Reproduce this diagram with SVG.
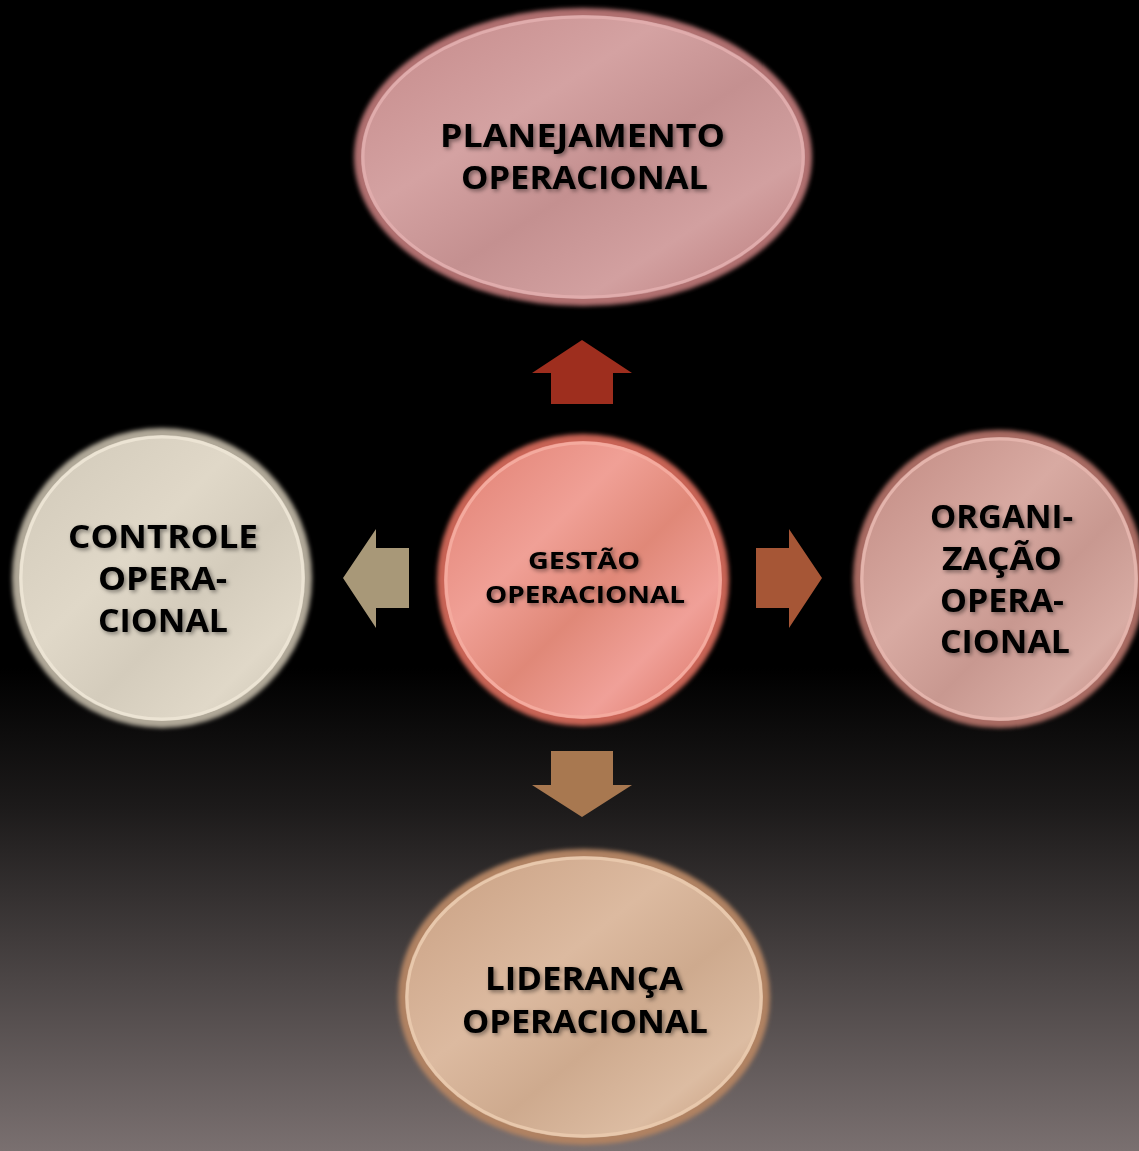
<svg xmlns="http://www.w3.org/2000/svg" width="1139" height="1151" viewBox="0 0 1139 1151">
<defs>
  <linearGradient id="bg" x1="0" y1="0" x2="0" y2="1">
    <stop offset="0" stop-color="#000"/>
    <stop offset="0.58" stop-color="#000"/>
    <stop offset="0.7" stop-color="#1c1a1a"/>
    <stop offset="1" stop-color="#7a7070"/>
  </linearGradient>
  <linearGradient id="gTop" x1="0" y1="0" x2="1" y2="1">
    <stop offset="0" stop-color="#c48888"/>
    <stop offset="0.35" stop-color="#d4a2a2"/>
    <stop offset="0.55" stop-color="#c49090"/>
    <stop offset="0.75" stop-color="#d2a0a0"/>
    <stop offset="1" stop-color="#b87878"/>
  </linearGradient>
  <linearGradient id="gCen" x1="0" y1="0" x2="1" y2="1">
    <stop offset="0" stop-color="#e07e70"/>
    <stop offset="0.35" stop-color="#f0a096"/>
    <stop offset="0.55" stop-color="#e08878"/>
    <stop offset="0.75" stop-color="#f0a098"/>
    <stop offset="1" stop-color="#d87060"/>
  </linearGradient>
  <linearGradient id="gLeft" x1="0" y1="0" x2="1" y2="1">
    <stop offset="0" stop-color="#d0c8b8"/>
    <stop offset="0.4" stop-color="#e0d8c8"/>
    <stop offset="0.6" stop-color="#d4ccbc"/>
    <stop offset="0.8" stop-color="#e0d8c8"/>
    <stop offset="1" stop-color="#c8c0b0"/>
  </linearGradient>
  <linearGradient id="gRight" x1="0" y1="0" x2="1" y2="1">
    <stop offset="0" stop-color="#c08880"/>
    <stop offset="0.4" stop-color="#d8aaa2"/>
    <stop offset="0.6" stop-color="#c89890"/>
    <stop offset="0.8" stop-color="#d8aca4"/>
    <stop offset="1" stop-color="#b87c74"/>
  </linearGradient>
  <linearGradient id="gBot" x1="0" y1="0" x2="1" y2="1">
    <stop offset="0" stop-color="#c89e80"/>
    <stop offset="0.4" stop-color="#dcbaa0"/>
    <stop offset="0.6" stop-color="#ceaa8e"/>
    <stop offset="0.8" stop-color="#dcbca2"/>
    <stop offset="1" stop-color="#c09474"/>
  </linearGradient>
  <filter id="ts" x="-10%" y="-30%" width="120%" height="160%">
    <feGaussianBlur in="SourceAlpha" stdDeviation="2"/>
    <feOffset dx="1.5" dy="2" result="b"/>
    <feFlood flood-color="#000" flood-opacity="0.45"/>
    <feComposite in2="b" operator="in" result="s"/>
    <feMerge><feMergeNode in="s"/><feMergeNode in="SourceGraphic"/></feMerge>
  </filter>
  <filter id="soft" x="-5%" y="-5%" width="110%" height="110%">
    <feGaussianBlur stdDeviation="2"/>
  </filter>
</defs>
<style>
  text { font-family: "Open Sans", "Liberation Sans", sans-serif; font-weight: bold; fill: #000; text-anchor: middle; }
  .big { font-size: 33px; }
  .small { font-size: 23px; }
  .ring { fill: none; stroke-width: 3; }
</style>
<rect width="1139" height="1151" fill="url(#bg)"/>

<g id="connectors">
  <polygon id="arrow-up" points="582,340 632,373 613,373 613,404 551,404 551,373 532,373" fill="#9e2e1e"/>
  <polygon id="arrow-left" points="343,578 376,529 376,548 409,548 409,608 376,608 376,628" fill="#a89878"/>
  <polygon id="arrow-right" points="822,578 789,529 789,548 756,548 756,608 789,608 789,628" fill="#a65636"/>
  <polygon id="arrow-down" points="582,817 632,785 613,785 613,751 551,751 551,785 532,785" fill="#a87850"/>
</g>

<g id="node-planejamento">
  <ellipse cx="583" cy="157" rx="229" ry="149" fill="#b07070" filter="url(#soft)"/>
  <ellipse cx="583" cy="157" rx="222" ry="142" fill="url(#gTop)"/>
  <ellipse class="ring" cx="583" cy="157" rx="220" ry="140" stroke="#e0acac"/>
  <g filter="url(#ts)">
    <text class="big" x="582.5" y="147" textLength="285" lengthAdjust="spacingAndGlyphs">PLANEJAMENTO</text>
    <text class="big" x="584.5" y="189" textLength="247" lengthAdjust="spacingAndGlyphs">OPERACIONAL</text>
  </g>
</g>

<g id="node-gestao">
  <circle cx="583" cy="580" r="146" fill="#c86454" filter="url(#soft)"/>
  <circle cx="583" cy="580" r="139" fill="url(#gCen)"/>
  <circle class="ring" cx="583" cy="580" r="137" stroke="#f4aa9e"/>
  <g filter="url(#ts)">
    <text class="small" x="584" y="569" textLength="112" lengthAdjust="spacingAndGlyphs">GESTÃO</text>
    <text class="small" x="585" y="603" textLength="200" lengthAdjust="spacingAndGlyphs">OPERACIONAL</text>
  </g>
</g>

<g id="node-controle">
  <circle cx="162" cy="578" r="150" fill="#b0a898" filter="url(#soft)"/>
  <circle cx="162" cy="578" r="143" fill="url(#gLeft)"/>
  <circle class="ring" cx="162" cy="578" r="141" stroke="#ece4d4"/>
  <g filter="url(#ts)">
    <text class="big" x="163" y="548" textLength="190" lengthAdjust="spacingAndGlyphs">CONTROLE</text>
    <text class="big" x="162.5" y="590" textLength="129" lengthAdjust="spacingAndGlyphs">OPERA-</text>
    <text class="big" x="163" y="632" textLength="130" lengthAdjust="spacingAndGlyphs">CIONAL</text>
  </g>
</g>

<g id="node-organizacao">
  <ellipse cx="999" cy="579" rx="146" ry="149" fill="#a86a62" filter="url(#soft)"/>
  <ellipse cx="999" cy="579" rx="139" ry="142" fill="url(#gRight)"/>
  <ellipse class="ring" cx="999" cy="579" rx="137" ry="140" stroke="#e4b4ac"/>
  <g filter="url(#ts)">
    <text class="big" x="1001.5" y="528" textLength="143" lengthAdjust="spacingAndGlyphs">ORGANI-</text>
    <text class="big" x="1002" y="570" textLength="120" lengthAdjust="spacingAndGlyphs">ZAÇÃO</text>
    <text class="big" x="1002" y="612" textLength="124" lengthAdjust="spacingAndGlyphs">OPERA-</text>
    <text class="big" x="1005" y="653" textLength="130" lengthAdjust="spacingAndGlyphs">CIONAL</text>
  </g>
</g>

<g id="node-lideranca">
  <ellipse cx="584" cy="997" rx="186" ry="148" fill="#b08262" filter="url(#soft)"/>
  <ellipse cx="584" cy="997" rx="179" ry="141" fill="url(#gBot)"/>
  <ellipse class="ring" cx="584" cy="997" rx="177" ry="139" stroke="#e8c8ac"/>
  <g filter="url(#ts)">
    <text class="big" x="584" y="990" textLength="198" lengthAdjust="spacingAndGlyphs">LIDERANÇA</text>
    <text class="big" x="585" y="1033" textLength="246" lengthAdjust="spacingAndGlyphs">OPERACIONAL</text>
  </g>
</g>
</svg>
